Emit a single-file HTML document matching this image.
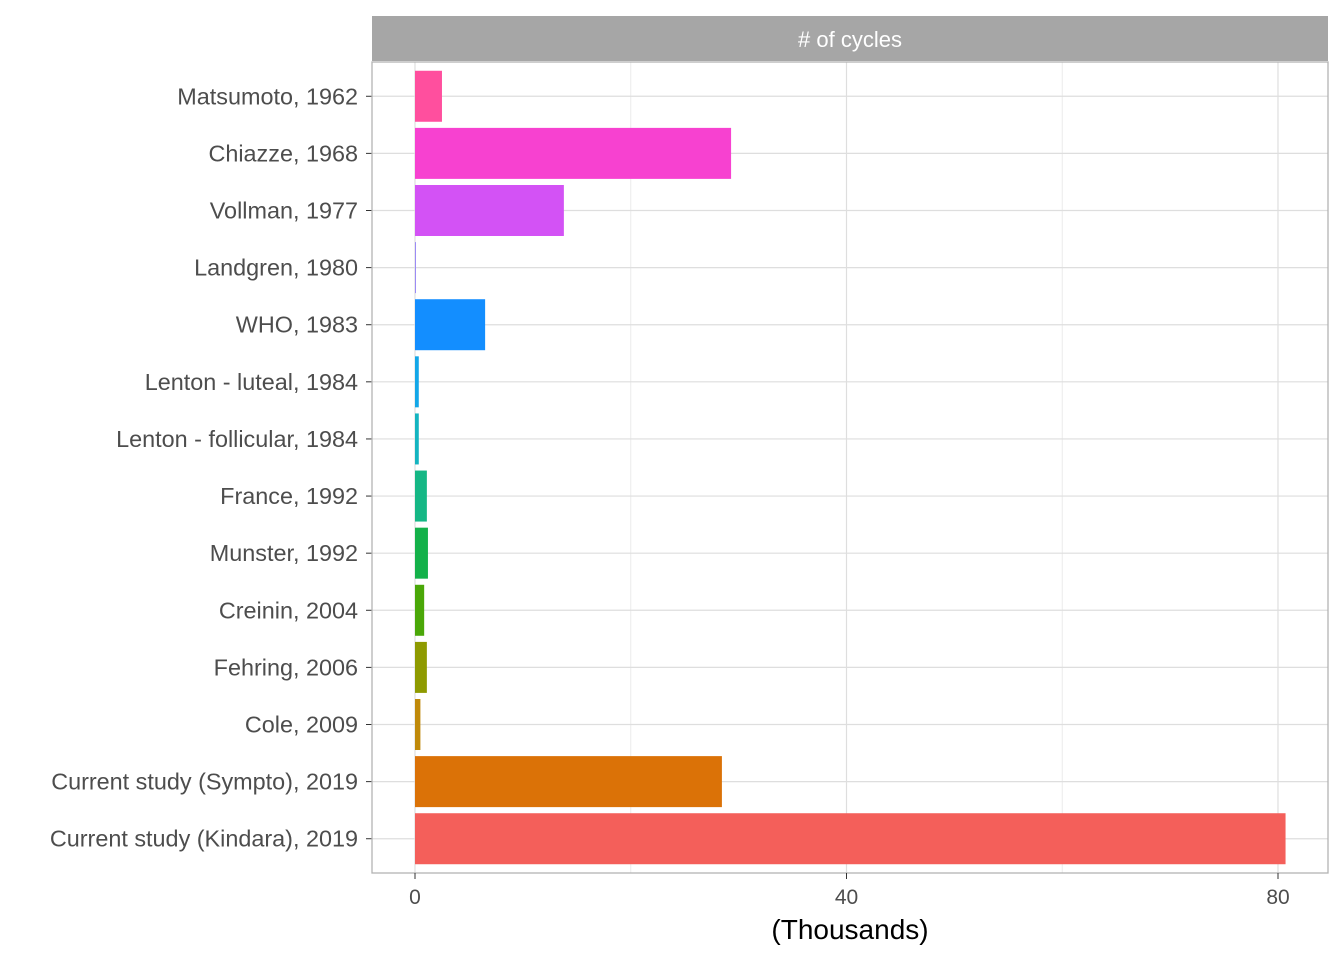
<!DOCTYPE html>
<html><head><meta charset="utf-8"><style>
body{margin:0;background:#fff;}
svg text{font-family:"Liberation Sans",Arial,sans-serif;}
</style></head><body>
<svg id="c" width="1344" height="960" xmlns="http://www.w3.org/2000/svg"></svg>
<script>
const categories=["Matsumoto, 1962","Chiazze, 1968","Vollman, 1977","Landgren, 1980","WHO, 1983","Lenton - luteal, 1984","Lenton - follicular, 1984","France, 1992","Munster, 1992","Creinin, 2004","Fehring, 2006","Cole, 2009","Current study (Sympto), 2019","Current study (Kindara), 2019"];
const values=[2.5,29.3,13.8,0.05,6.5,0.35,0.35,1.1,1.2,0.85,1.1,0.5,28.45,80.7];
const colors=["#FF4F9E","#F741D0","#D352F5","#9B8BF5","#138EFF","#13A7E8","#14B4C0","#15B785","#14B14A","#4AA708","#8E9A00","#C08A0A","#DB7207","#F45F5A"];
const xTicks=[0,40,80];
const xMinor=[20,60];
const NS="http://www.w3.org/2000/svg";
const svg=document.getElementById('c');
const L=372,R=1328,T=62,B=873;
const x=v=>415+v*(1278-415)/80;
const step=(B-T)/(categories.length-1+1.2);
const y=i=>T+step*(i+0.6);
function mk(t,a,p){const e=document.createElementNS(NS,t);for(const k in a)e.setAttribute(k,a[k]);(p||svg).appendChild(e);return e;}
let e;
e=mk('rect',{x:L,y:T,width:R-L,height:B-T,fill:'#fff'});


xMinor.forEach(v=>{mk('line',{x1:x(v),x2:x(v),y1:T,y2:B,stroke:'#ebebeb','stroke-width':1});});
xTicks.forEach(v=>{e=mk('line',{x1:x(v),x2:x(v),y1:T,y2:B,stroke:'#dedede','stroke-width':1.2});

});
categories.forEach((c,i)=>{mk('line',{x1:L,x2:R,y1:y(i),y2:y(i),stroke:'#dedede','stroke-width':1.2});});
categories.forEach((c,i)=>{
 e=mk('rect',{x:x(0),y:y(i)-25.5,width:Math.max(1,x(values[i])-x(0)),height:51,fill:colors[i]});
 
 
 e=mk('text',{x:358,y:y(i)+8,'text-anchor':'end','font-size':23.4,fill:'#4d4d4d'});
 e.textContent=c;
 
 
 mk('line',{x1:366,x2:372,y1:y(i),y2:y(i),stroke:'#333','stroke-width':1});
});
e=mk('rect',{x:L,y:T,width:R-L,height:B-T,fill:'none',stroke:'#b3b3b3','stroke-width':1.3});


e=mk('rect',{x:L,y:16,width:R-L,height:45,fill:'#a6a6a6'});


e=mk('text',{x:(L+R)/2,y:47,'text-anchor':'middle','font-size':22,fill:'#fff'});
e.textContent='# of cycles';


xTicks.forEach(v=>{
 mk('line',{x1:x(v),x2:x(v),y1:B,y2:B+6,stroke:'#333','stroke-width':1});
 e=mk('text',{x:x(v),y:904,'text-anchor':'middle','font-size':21,fill:'#4d4d4d'});
 e.textContent=v;
 
 
});
e=mk('text',{x:850,y:939,'text-anchor':'middle','font-size':28,fill:'#000'});
e.textContent='(Thousands)';


</script>
</body></html>
